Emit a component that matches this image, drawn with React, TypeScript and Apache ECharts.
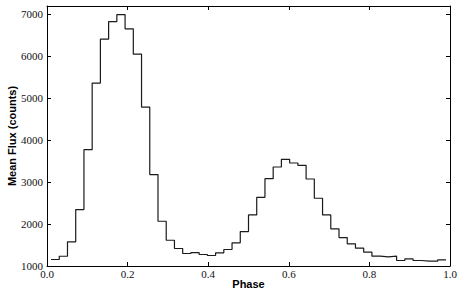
import React, { useEffect, useRef } from "react";
import * as echarts from "echarts";

// Histogram: 48 phase bins between 0.01 and 0.99
const phaseStart = 0.01;
const phaseEnd = 0.99;
const meanFlux = [
  1155, 1233, 1576, 2345, 3774, 5362, 6410, 6829, 6995, 6655, 6052, 4790,
  3179, 2067, 1614, 1417, 1298, 1321, 1274, 1250, 1313, 1393, 1552, 1821,
  2219, 2638, 3083, 3361, 3544, 3456, 3400, 3075, 2615, 2219, 1886, 1679,
  1528, 1425, 1330, 1234, 1218, 1234, 1131, 1171, 1131, 1115, 1115, 1147,
];
const xTicks = [0, 0.2, 0.4, 0.6, 0.8, 1.0];
const yTicks = [1000, 2000, 3000, 4000, 5000, 6000, 7000];

export default function App() {
  const ref = useRef<HTMLDivElement>(null);
  useEffect(() => {
    document.body.style.margin = "0";
    if (!ref.current) return;
    const chart = echarts.init(ref.current, undefined, { renderer: "svg" });
    const n = meanFlux.length;
    const w = (phaseEnd - phaseStart) / n;
    const pts: number[][] = [];
    meanFlux.forEach((v, i) => {
      pts.push([phaseStart + i * w, v]);
      pts.push([phaseStart + (i + 1) * w, v]);
    });
    const tickStyle = {
      fontFamily: "Liberation Serif, Times New Roman, serif",
      fontSize: 11,
      color: "#111",
    };
    const common = {
      axisLine: { show: true, onZero: false, lineStyle: { color: "#000", width: 1 } },
      axisTick: { show: true, inside: true, length: 4, lineStyle: { color: "#000" } },
      splitLine: { show: false },
    };
    chart.setOption({
      animation: false,
      backgroundColor: "#fff",
      grid: { left: 47, right: 14, top: 6, bottom: 30, containLabel: false, outerBoundsMode: "none" },
      xAxis: [
        {
          type: "value",
          min: xTicks[0],
          max: xTicks[xTicks.length - 1],
          interval: 0.2,
          position: "bottom",
          name: "Phase",
          nameLocation: "middle",
          nameGap: 12,
          nameMoveOverlap: false,
          nameTextStyle: { fontFamily: "Liberation Sans", fontWeight: "bold", fontSize: 11, color: "#000" },
          ...common,
          axisLabel: { ...tickStyle, margin: 2, formatter: (v: number) => v.toFixed(1) },
        },
        {
          type: "value",
          min: xTicks[0],
          max: xTicks[xTicks.length - 1],
          interval: 0.2,
          position: "top",
          ...common,
          axisLabel: { show: false },
        },
      ],
      yAxis: [
        {
          type: "value",
          min: 1000,
          max: 7200,
          interval: 1000,
          position: "left",
          name: "Mean Flux (counts)",
          nameLocation: "middle",
          nameGap: 30,
          nameMoveOverlap: false,
          nameTextStyle: { fontFamily: "Liberation Sans", fontWeight: "bold", fontSize: 11, color: "#000" },
          ...common,
          axisLabel: {
            ...tickStyle,
            margin: 4,
            showMaxLabel: false,
            formatter: (v: number) => (yTicks.includes(v) ? String(v) : ""),
          },
        },
        {
          type: "value",
          min: 1000,
          max: 7200,
          interval: 1000,
          position: "right",
          ...common,
          axisLabel: { show: false },
        },
      ],
      series: [
        {
          type: "line",
          data: pts,
          showSymbol: false,
          symbol: "none",
          lineStyle: { color: "#1a1a1a", width: 1.2 },
          xAxisIndex: 0,
          yAxisIndex: 0,
        },
      ],
    });
    return () => chart.dispose();
  }, []);
  return <div ref={ref} style={{ width: 464, height: 296 }} />;
}
